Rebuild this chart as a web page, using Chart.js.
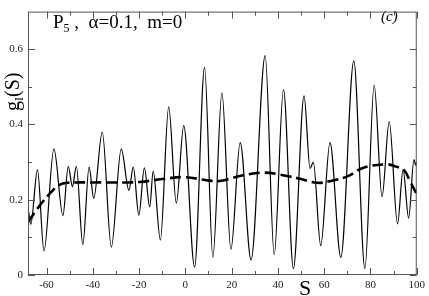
<!DOCTYPE html>
<html lang="en">
<head>
  <meta charset="UTF-8" />
  <title>g_I(S) oscillations</title>
  <script src="https://cdn.jsdelivr.net/npm/chart.js"></script>
  <style>
    body {
      margin: 0;
      background: #fff;
      font-family: "Liberation Serif", "DejaVu Serif", serif;
    }
    .wrap {
      position: relative;
      width: 429px;
      height: 296px;
    }
    .lbl {
      position: absolute;
      white-space: pre;
      line-height: 1;
      color: #000;
    }
    #note { left: 53px; top: 12px; font-size: 19px; }
    #panel { left: 381px; top: 9px; font-size: 15px; font-style: italic; }
    #xname { left: 299px; top: 277px; font-size: 22px; }
    #yname {
      left: 2px; top: 111px; font-size: 20px;
      transform-origin: 0 0;
      transform: rotate(-90deg);
    }
    .sub { font-size: 12px; vertical-align: -4px; }
  </style>
</head>
<body>
  <div class="wrap">
    <canvas id="gChart" width="429" height="296"></canvas>
    <div class="lbl" id="note">P<span class="sub">5</span> ,  α=0.1,  m=0</div>
    <div class="lbl" id="panel">(c)</div>
    <div class="lbl" id="xname">S</div>
    <div class="lbl" id="yname">g<span class="sub">I</span>(S)</div>
  </div>

  <script>
    // solid curve: extrema
    const solidS = [-68, -66.8, -63.9, -61.1, -56.8, -52.9, -50.6, -48.8, -47.1, -44.3,
      -41.6, -39.6, -35.9, -32.0, -27.7, -24.4, -22.5, -20.1, -17.7, -15.4,
      -13.9, -10.8, -7.2, -3.9, -0.7, 4.0, 8.3, 11.9, 15.8, 19.7,
      23.7, 28.4, 34.5, 38.4, 42.4, 46.7, 51.3, 53.9, 55.3, 58.5,
      62.5, 67.2, 72.8, 77.6, 81.6, 85.0, 88.1, 91.7, 94.1, 96.5,
      98.8, 99.5, 100];
    const solidG = [0.18, 0.135, 0.28, 0.064, 0.335, 0.158, 0.289, 0.235, 0.289, 0.081,
      0.287, 0.204, 0.38, 0.074, 0.335, 0.225, 0.287, 0.159, 0.285, 0.181,
      0.276, 0.093, 0.447, 0.191, 0.397, 0.021, 0.552, 0.047, 0.484, 0.068,
      0.352, 0.04, 0.583, 0.054, 0.493, 0.017, 0.476, 0.283, 0.300, 0.078,
      0.352, 0.047, 0.569, 0.017, 0.505, 0.208, 0.408, 0.136, 0.28, 0.151,
      0.307, 0.292, 0.30];

    // dashed curve (smooth average)
    const dashS = [-68, -62.5, -58, -54.6, -51, -40, -30, -20, -10, 0,
      9, 15, 25, 34, 44, 50, 57, 63, 70, 77,
      87, 91, 94.6, 97, 100];
    const dashG = [0.141, 0.188, 0.22, 0.239, 0.245, 0.246, 0.246, 0.247, 0.255, 0.26,
      0.252, 0.25, 0.265, 0.272, 0.263, 0.255, 0.245, 0.25, 0.262, 0.285,
      0.294, 0.288, 0.278, 0.25, 0.215];

    const xTicks = [-60, -40, -20, 0, 20, 40, 60, 80, 100];
    const xMinor = [-50, -30, -10, 10, 30, 50, 70, 90];
    const yTicks = [0, 0.2, 0.4, 0.6];
    const yMinor = [0.1, 0.3, 0.5];

    const toPts = (xs, ys) => xs.map((x, i) => ({ x: x, y: ys[i] }));

    // frame + inward ticks on all four sides
    const frameTicks = {
      id: 'frameTicks',
      afterDraw(chart) {
        const { ctx, chartArea: a, scales } = chart;
        ctx.save();
        ctx.strokeStyle = '#555';
        ctx.lineWidth = 1;
        ctx.strokeRect(a.left + 0.5, a.top + 0.5, a.right - a.left - 1, a.bottom - a.top - 1);
        ctx.beginPath();
        const xt = (v, len) => {
          const p = Math.round(scales.x.getPixelForValue(v)) + 0.5;
          ctx.moveTo(p, a.bottom); ctx.lineTo(p, a.bottom - len);
          ctx.moveTo(p, a.top); ctx.lineTo(p, a.top + len);
        };
        const yt = (v, len) => {
          const p = Math.round(scales.y.getPixelForValue(v)) + 0.5;
          ctx.moveTo(a.left, p); ctx.lineTo(a.left + len, p);
          ctx.moveTo(a.right, p); ctx.lineTo(a.right - len, p);
        };
        xTicks.forEach(v => xt(v, 7));
        xMinor.forEach(v => xt(v, 4));
        yTicks.forEach(v => yt(v, 7));
        yMinor.forEach(v => yt(v, 4));
        ctx.stroke();
        ctx.restore();
      }
    };

    new Chart(document.getElementById('gChart').getContext('2d'), {
      type: 'line',
      data: {
        datasets: [{
          data: toPts(solidS, solidG),
          borderColor: '#000',
          borderWidth: 1.2,
          pointRadius: 0,
          cubicInterpolationMode: 'monotone',
          fill: false
        }, {
          data: toPts(dashS, dashG),
          borderColor: '#000',
          borderWidth: 2.6,
          borderDash: [11, 5],
          pointRadius: 0,
          tension: 0.4,
          fill: false
        }]
      },
      options: {
        responsive: false,
        animation: false,
        layout: { padding: { left: 0, right: 9, top: 1, bottom: 0 } },
        plugins: { legend: { display: false }, tooltip: { enabled: false } },
        scales: {
          x: {
            type: 'linear',
            min: -68,
            max: 100,
            grid: { display: false, drawTicks: false },
            border: { display: false },
            afterBuildTicks: s => { s.ticks = xTicks.map(v => ({ value: v })); },
            afterFit: s => { s.height = 21; },
            ticks: {
              padding: 4,
              color: '#222',
              maxRotation: 0,
              font: { family: 'Liberation Serif', size: 11 },
              callback: v => String(v)
            }
          },
          y: {
            min: 0,
            max: 0.7,
            grid: { display: false, drawTicks: false },
            border: { display: false },
            afterBuildTicks: s => { s.ticks = yTicks.map(v => ({ value: v })); },
            afterFit: s => { s.width = 28; },
            ticks: {
              padding: 5,
              color: '#222',
              font: { family: 'Liberation Serif', size: 11 },
              callback: v => String(Math.round(v * 10) / 10)
            }
          }
        }
      },
      plugins: [frameTicks]
    });
  </script>
</body>
</html>
